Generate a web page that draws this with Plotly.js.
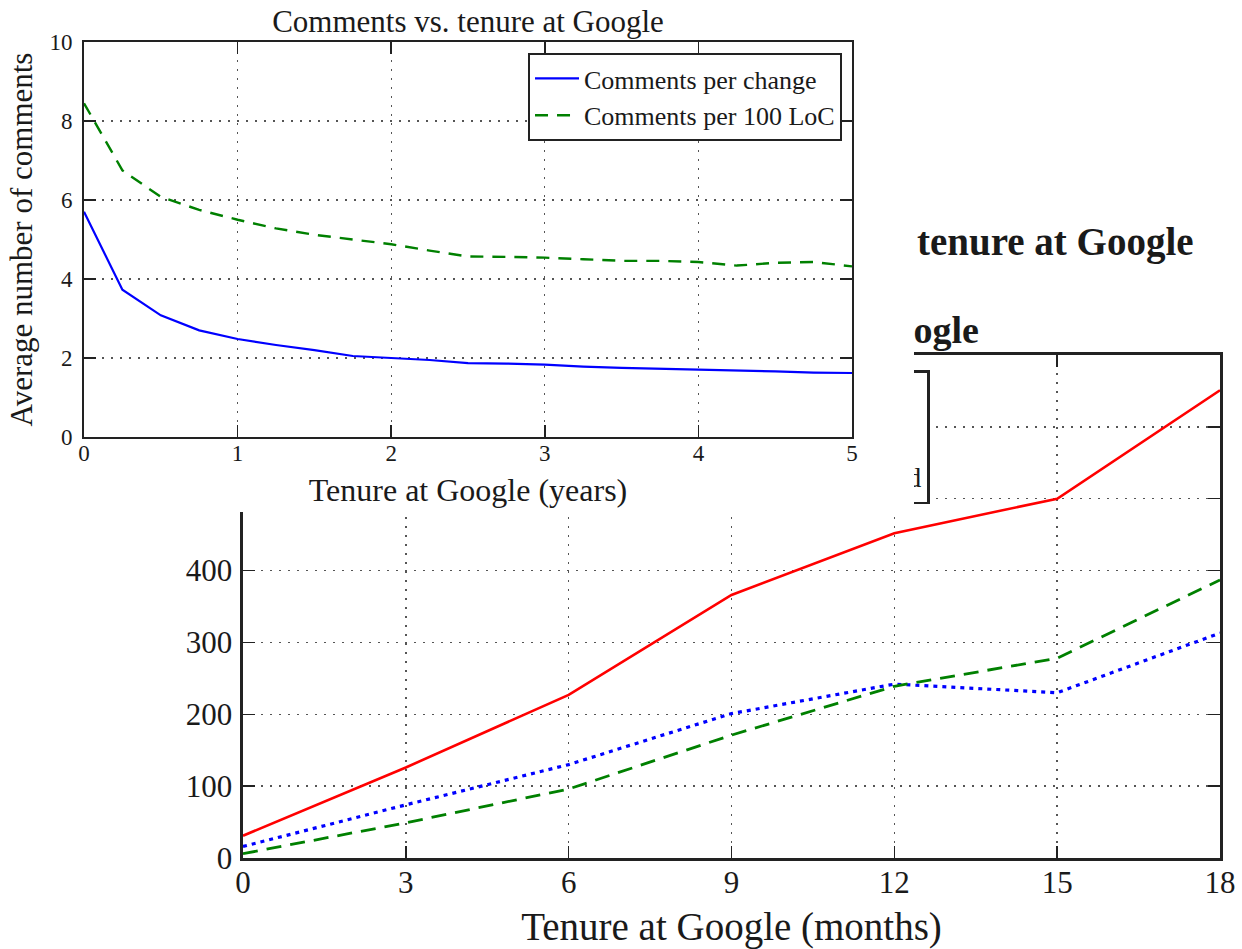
<!DOCTYPE html>
<html><head><meta charset="utf-8">
<script src="https://cdn.plot.ly/plotly-3.0.1.min.js"></script>
<style>
html,body{margin:0;padding:0;background:#fff;overflow:hidden;}
#back{position:absolute;left:0;top:0;width:1242px;height:949px;}
#front{position:absolute;left:0;top:0;width:914px;height:512px;}
</style></head><body>
<div id="back"></div><div id="front"></div>
<script>
// ---- Top chart data (years) ----
const yearsX = [0,0.25,0.5,0.75,1,1.25,1.5,1.75,2,2.25,2.5,2.75,3,3.25,3.5,3.75,4,4.25,4.5,4.75,5];
const commentsPerChange = [5.70,3.73,3.08,2.70,2.48,2.33,2.20,2.05,2.00,1.95,1.87,1.86,1.83,1.78,1.75,1.73,1.71,1.68,1.66,1.63,1.62];
const commentsPer100LoC = [8.45,6.75,6.08,5.75,5.50,5.28,5.12,5.00,4.88,4.72,4.57,4.56,4.54,4.50,4.46,4.46,4.43,4.34,4.41,4.43,4.32];
const topNames = ['Comments per change','Comments per 100 LoC'];

// ---- Bottom chart data (months) ----
const monthsX = [0,3,6,9,12,15,18];
const seriesEdited = [16,74,130,201,242,230,313];
const seriesReviewed = [6,49,96,171,239,278,387];
const seriesEditedOrReviewed = [31,126,227,366,452,500,651];
const bottomNames = ['Edited','Reviewed','Edited or reviewed'];

const FONT = 'Liberation Serif, Times New Roman, serif';
const INK = '#1a1a1a';

function ax(range, dtick, o) {
  return Object.assign({
    range: range, dtick: dtick, tick0: 0, autorange: false,
    showgrid: true, gridcolor: '#555', gridwidth: 1.4, griddash: '2px,7px',
    showline: true, linecolor: '#222', linewidth: 2, mirror: 'ticks',
    ticks: 'inside', ticklen: 12, tickwidth: 1.5, tickcolor: '#222',
    zeroline: false, fixedrange: true, automargin: false,
    tickfont: {family: FONT, size: 23, color: INK}
  }, o);
}

// ---- Bottom (background) chart ----
const backTraces = [
  {x: monthsX, y: seriesEdited, name: bottomNames[0], mode: 'lines',
   line: {color: '#0000ff', width: 3.2, dash: '4px,5px'}},
  {x: monthsX, y: seriesReviewed, name: bottomNames[1], mode: 'lines',
   line: {color: '#008000', width: 2.8, dash: '15px,9px'}},
  {x: monthsX, y: seriesEditedOrReviewed, name: bottomNames[2], mode: 'lines',
   line: {color: '#ff0000', width: 2.6}}
];
const backLayout = {
  width: 1242, height: 949,
  margin: {l: 243, r: 22, t: 355, b: 91, pad: 0},
  paper_bgcolor: '#fff', plot_bgcolor: '#fff',
  showlegend: true,
  legend: {x: 0.703, xanchor: 'right', y: 0.970, yanchor: 'top',
           bgcolor: '#fff', bordercolor: '#222', borderwidth: 2.5,
           font: {family: FONT, size: 28, color: INK}},
  xaxis: ax([0, 18], 3, {linewidth: 2.6, tickfont: {family: FONT, size: 31, color: INK},
    ticklabelstandoff: -5,
    title: {text: 'Tenure at Google (months)', font: {family: FONT, size: 39, color: INK}, standoff: 20}}),
  yaxis: ax([0, 700], 100, {linewidth: 2.6, tickfont: {family: FONT, size: 31, color: INK},
    ticklabelstandoff: 2}),
  annotations: [
    {xref: 'paper', yref: 'paper', x: 0.9755, y: 1.2247, xanchor: 'right', yanchor: 'middle',
     showarrow: false, text: '<b>tenure at Google</b>', font: {family: FONT, size: 39, color: INK}},
    {xref: 'paper', yref: 'paper', x: 0.7554, y: 1.0497, xanchor: 'right', yanchor: 'middle',
     showarrow: false, text: '<b>Google</b>', font: {family: FONT, size: 38, color: INK}}
  ]
};
Plotly.newPlot('back', backTraces, backLayout, {displayModeBar: false, staticPlot: true});

// ---- Top (foreground) chart ----
const frontTraces = [
  {x: yearsX, y: commentsPerChange, name: topNames[0], mode: 'lines',
   line: {color: '#0000ff', width: 2.2}},
  {x: yearsX, y: commentsPer100LoC, name: topNames[1], mode: 'lines',
   line: {color: '#008000', width: 2.4, dash: '13px,9px'}}
];
const frontLayout = {
  width: 914, height: 512,
  margin: {l: 84, r: 62, t: 42, b: 75, pad: 0},
  paper_bgcolor: '#fff', plot_bgcolor: '#fff',
  title: {text: 'Comments vs. tenure at Google', x: 0.5, xref: 'paper', xanchor: 'center',
          y: 1 - 21 / 512, yref: 'container', yanchor: 'middle',
          font: {family: FONT, size: 31, color: INK}},
  showlegend: true,
  legend: {x: 0.987, xanchor: 'right', y: 0.972, yanchor: 'top',
           bgcolor: '#fff', bordercolor: '#222', borderwidth: 2, itemwidth: 44,
           font: {family: FONT, size: 26, color: INK}},
  xaxis: ax([0, 5], 1, {ticklabelstandoff: -6,
    title: {text: 'Tenure at Google (years)', font: {family: FONT, size: 32, color: INK}, standoff: 14}}),
  yaxis: ax([0, 10], 2, {ticklabelstandoff: 5,
    title: {text: 'Average number of comments', font: {family: FONT, size: 31, color: INK}, standoff: 8}})
};
Plotly.newPlot('front', frontTraces, frontLayout, {displayModeBar: false, staticPlot: true});
</script>
</body></html>
